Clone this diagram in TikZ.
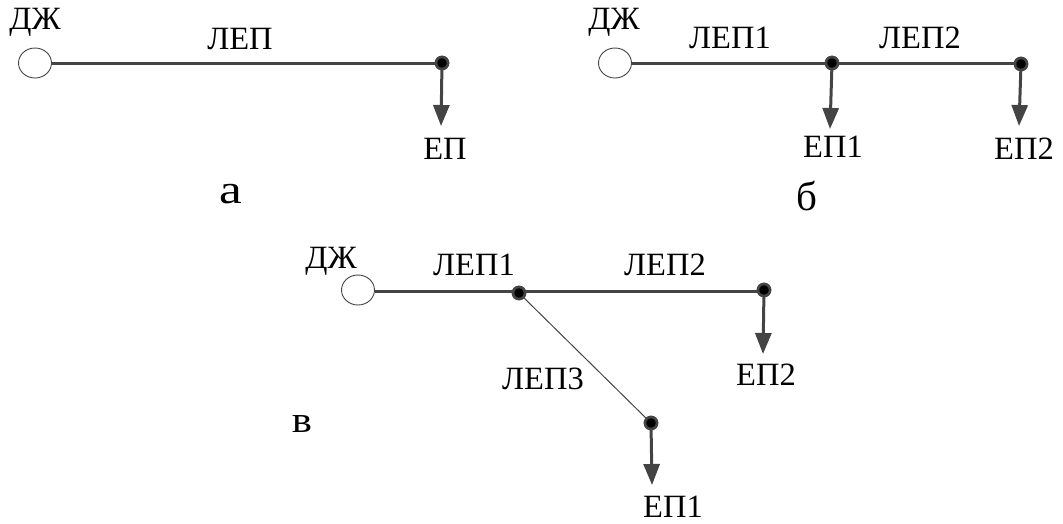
\documentclass[tikz,border=0pt]{standalone}
\usepackage{fontspec}
\setmainfont{Liberation Serif}
\usetikzlibrary{arrows.meta}
\definecolor{ln}{HTML}{444444}
\tikzset{
 x=1pt,y=-1pt,
 lbl/.style={inner sep=0pt,font=\fontsize{32.5}{32.5}\selectfont,text=black},
 biglbl/.style={inner sep=0pt,font=\fontsize{41}{41}\selectfont,text=black},
 dotn/.style={circle,draw=ln,fill=black,line width=2.6pt,minimum size=12pt,inner sep=0pt},
 lep/.style={draw=ln,line width=3pt},
 thinlep/.style={draw=ln,line width=1pt},
 load/.style={draw=ln,line width=3pt,-{Triangle[length=21pt,width=16pt]}},
}
\newcommand{\srcshape}[1]{\draw[draw=ln,fill=white,line width=0.9pt] (#1) ellipse [x radius=16.5pt,y radius=15pt];}
\begin{document}
\begin{tikzpicture}
\useasboundingbox (0,0) rectangle (1063,523);
% a
\coordinate (a0) at (35,63);
\coordinate (aw) at (51.5,63);
\node[dotn] (a1) at (442,63) {};
\coordinate (ae) at (441,126);
\draw[lep] (aw) -- (a1);
\srcshape{a0}
\draw[load] (a1.center) -- (ae);
\node[dotn] at (a1) {};
\node[lbl] (ta0) at (35,22) {ДЖ};
\node[lbl] (ta1) at (240,39) {ЛЕП};
\node[lbl] (ta2) at (445,149) {ЕП};
\node[biglbl,xscale=1.25] (ta3) at (231,194) {а};
% b
\coordinate (b0) at (615,63);
\coordinate (bw) at (631.5,63);
\node[dotn] (b1) at (832,63) {};
\node[dotn] (b2) at (1021,64) {};
\coordinate (be1) at (830,129);
\coordinate (be2) at (1019,126);
\draw[lep] (bw) -- (b1.center) -- (b2.center |- b1.center);
\srcshape{b0}
\draw[load] (b1.center) -- (be1);
\draw[load] (b2.center) -- (be2);
\node[dotn] at (b1) {};
\node[dotn] at (b2) {};
\node[lbl] (tb0) at (614,22) {ДЖ};
\node[lbl] (tb1) at (730,38) {ЛЕП1};
\node[lbl] (tb2) at (920,38) {ЛЕП2};
\node[lbl] (tb3) at (833,147) {ЕП1};
\node[lbl] (tb4) at (1024,149) {ЕП2};
\node[biglbl] (tb5) at (807,196) {б};
% c
\coordinate (c0) at (358,290);
\coordinate (cw) at (374.5,291);
\node[dotn] (c1) at (519,293) {};
\node[dotn] (c2) at (764,290) {};
\node[dotn] (c3) at (651,423) {};
\coordinate (ce2) at (763,354);
\coordinate (ce1) at (652,485);
\draw[lep] (cw) -- (c2.center |- cw);
\draw[thinlep] (c1) -- (c3);
\srcshape{c0}
\draw[load] (c2.center) -- (ce2);
\draw[load] (c3.center) -- (ce1);
\node[dotn] at (c1) {};
\node[dotn] at (c2) {};
\node[dotn] at (c3) {};
\node[lbl] (tc0) at (331,261) {ДЖ};
\node[lbl] (tc1) at (474,265) {ЛЕП1};
\node[lbl] (tc2) at (665,265) {ЛЕП2};
\node[lbl] (tc3) at (543,379) {ЛЕП3};
\node[lbl] (tc4) at (766,375) {ЕП2};
\node[lbl] (tc5) at (673,507) {ЕП1};
\node[lbl,xscale=1.15,font=\fontsize{37}{37}\selectfont] (tc6) at (302,424) {в};
\end{tikzpicture}
\end{document}
